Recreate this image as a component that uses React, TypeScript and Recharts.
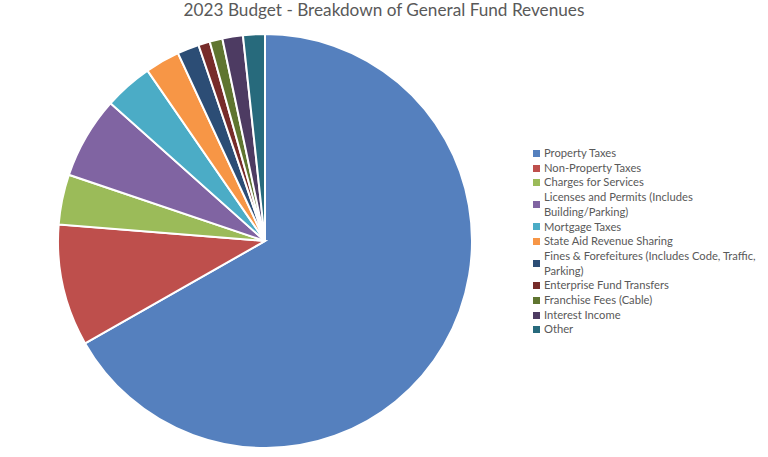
import React from 'react';
import { PieChart, Pie, Cell, Legend } from 'recharts';

// Revenue categories and their share of the general fund (%)
const categories = [
  'Property Taxes',
  'Non-Property Taxes',
  'Charges for Services',
  'Licenses and Permits (Includes Building/Parking)',
  'Mortgage Taxes',
  'State Aid Revenue Sharing',
  'Fines & Forefeitures (Includes Code, Traffic, Parking)',
  'Enterprise Fund Transfers',
  'Franchise Fees (Cable)',
  'Interest Income',
  'Other',
];
const shares = [66.7, 9.5, 3.9, 6.4, 3.8, 2.7, 1.7, 0.9, 1.0, 1.6, 1.7];
const colors = [
  '#5580BE', '#BE4F4C', '#9BBB59', '#8064A2', '#4BACC6', '#F79646',
  '#2C4D75', '#772C2A', '#5F7530', '#4D3B62', '#276A7C',
];

const data = categories.map((name, i) => ({ name, value: shares[i] }));

const FONT = 'Lato, "Open Sans", sans-serif';

const LegendList = () => (
  <ul style={{ listStyle: 'none', margin: 0, padding: 0, width: 228 }}>
    {data.map((d, i) => (
      <li
        key={d.name}
        style={{
          display: 'flex',
          alignItems: 'center',
          fontFamily: FONT,
          fontSize: 11.2,
          lineHeight: '14.7px',
          color: '#595959',
        }}
      >
        <span
          style={{
            width: 7,
            height: 7,
            background: colors[i],
            marginRight: 4,
            flex: '0 0 auto',
          }}
        />
        <span>{d.name}</span>
      </li>
    ))}
  </ul>
);

export default function App() {
  return (
    <div style={{ position: 'absolute', left: 0, top: 0, width: 768, height: 457, background: '#fff' }}>
      <div
        style={{
          position: 'absolute',
          top: 0,
          left: 0,
          width: 768,
          textAlign: 'center',
          fontFamily: FONT,
          fontSize: 17.2,
          color: '#595959',
          lineHeight: '20px',
        }}
      >
        2023 Budget - Breakdown of General Fund Revenues
      </div>
      <PieChart width={768} height={457} margin={{ top: 0, right: 0, bottom: 0, left: 0 }}>
        <Pie
          data={data}
          dataKey="value"
          nameKey="name"
          cx={265}
          cy={241}
          outerRadius={207}
          startAngle={90}
          endAngle={-270}
          stroke="#fff"
          strokeWidth={2}
          isAnimationActive={false}
        >
          {data.map((d, i) => (
            <Cell key={d.name} fill={colors[i]} />
          ))}
        </Pie>
        <Legend
          layout="vertical"
          verticalAlign="top"
          align="right"
          content={() => <LegendList />}
          wrapperStyle={{ left: 533, top: 146, width: 232 }}
        />
      </PieChart>
    </div>
  );
}
